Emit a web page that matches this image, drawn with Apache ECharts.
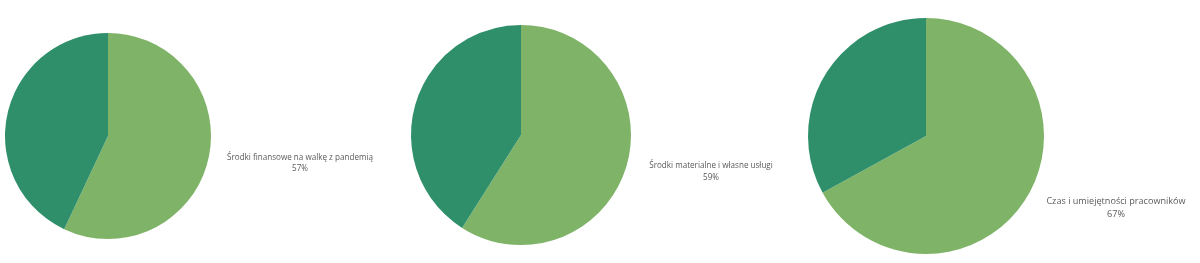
<!DOCTYPE html>
<html><head><meta charset="utf-8">
<script src="https://cdn.jsdelivr.net/npm/echarts@6/dist/echarts.min.js"></script>
<style>html,body{margin:0;padding:0;background:#fff}#c{width:1200px;height:263px}</style>
</head><body><div id="c"></div>
<script>
const categories = ['Środki finansowe na walkę z pandemią', 'Środki materialne i własne usługi', 'Czas i umiejętności pracowników'];
const yesValues = [57, 59, 67];
const noValues = [43, 41, 33];
const colors = ['#7fb468', '#2e8f6a'];

const centers = [[108, 136], [521, 135], [926, 136]];
const radii = [103, 110, 118];
const labelPos = [[300, 152, 8.1, 11], [711, 160, 8.1, 12], [1116, 195, 9.1, 13]];

const chart = echarts.init(document.getElementById('c'), null, {renderer: 'canvas'});
const series = categories.map((c, i) => ({
  type: 'pie',
  center: centers[i],
  radius: radii[i],
  startAngle: 90,
  clockwise: true,
  silent: true,
  animation: false,
  label: {show: false},
  labelLine: {show: false},
  itemStyle: {borderWidth: 0},
  data: [
    {name: 'tak', value: yesValues[i], itemStyle: {color: colors[0]}},
    {name: 'nie', value: noValues[i], itemStyle: {color: colors[1]}}
  ]
}));
const elements = categories.map((c, i) => ({
  type: 'text',
  x: labelPos[i][0], y: labelPos[i][1],
  style: {
    text: c + '\n' + yesValues[i] + '%',
    textAlign: 'center',
    fill: '#5a5a5a',
    font: 'normal ' + labelPos[i][2] + 'px "Open Sans"',
    lineHeight: labelPos[i][3]
  }
}));
chart.setOption({animation: false, series, graphic: {elements}});
</script></body></html>
